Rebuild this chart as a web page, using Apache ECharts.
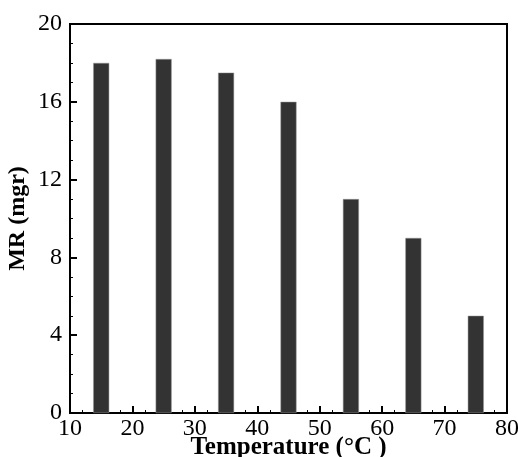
<!DOCTYPE html>
<html>
<head>
<meta charset="utf-8">
<script src="https://cdn.jsdelivr.net/npm/echarts@6/dist/echarts.min.js"></script>
<style>html,body{margin:0;padding:0;background:#fff}#c{width:518px;height:457px}</style>
</head>
<body>
<div id="c"></div>
<script>
const temperatures = [15, 25, 35, 45, 55, 65, 75];
const mrValues = [18.0, 18.2, 17.5, 16.0, 11.0, 9.0, 5.0];
const xTitle = 'Temperature (°C )';
const yTitle = 'MR (mgr)';

const chart = echarts.init(document.getElementById('c'), null, {renderer: 'canvas'});
const font = 'Liberation Serif';
chart.setOption({
  animation: false,
  backgroundColor: '#fff',
  grid: {left: 70, right: 11, top: 24, bottom: 44, show: true, borderColor: '#000', borderWidth: 2, backgroundColor: 'transparent', containLabel: false, outerBoundsMode: 'none'},
  xAxis: {
    type: 'value', min: 10, max: 80, interval: 10,
    name: xTitle, nameLocation: 'middle', nameGap: 22, nameMoveOverlap: false,
    nameTextStyle: {fontFamily: font, fontWeight: 'bold', fontSize: 25, color: '#000'},
    axisLine: {show: true, lineStyle: {color: '#000', width: 2}},
    axisTick: {show: true, inside: true, length: 7, lineStyle: {color: '#000', width: 2}},
    minorTick: {show: true, splitNumber: 5, length: 3, lineStyle: {color: '#000', width: 1}},
    axisLabel: {fontFamily: font, fontSize: 24, color: '#000', margin: 4},
    splitLine: {show: false}
  },
  yAxis: {
    type: 'value', min: 0, max: 20, interval: 4,
    name: yTitle, nameLocation: 'middle', nameGap: 40, nameMoveOverlap: false,
    nameTextStyle: {fontFamily: font, fontWeight: 'bold', fontSize: 24, color: '#000'},
    axisLine: {show: true, lineStyle: {color: '#000', width: 2}},
    axisTick: {show: true, inside: true, length: 7, lineStyle: {color: '#000', width: 2}},
    minorTick: {show: true, splitNumber: 4, length: 3, lineStyle: {color: '#000', width: 1}},
    axisLabel: {fontFamily: font, fontSize: 24, color: '#000', margin: 8},
    splitLine: {show: false}
  },
  series: [{
    type: 'bar',
    data: temperatures.map((t, i) => [t, mrValues[i]]),
    barWidth: 16,
    itemStyle: {color: '#333333', borderColor: '#999', borderWidth: 0.5}
  }]
});
</script>
</body>
</html>
